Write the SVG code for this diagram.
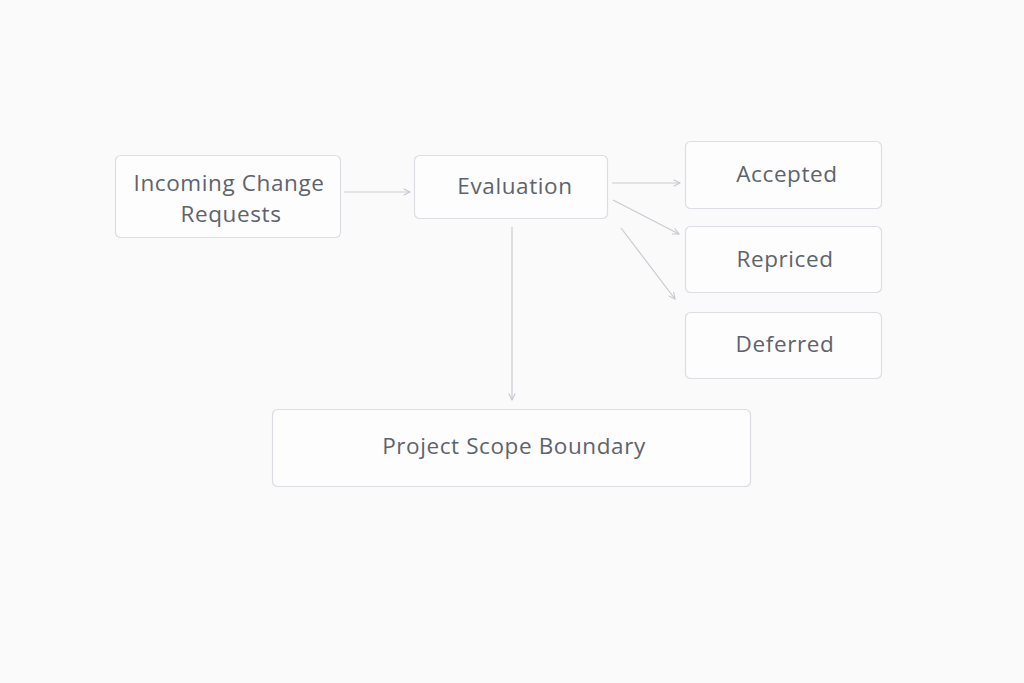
<svg xmlns="http://www.w3.org/2000/svg" width="1024" height="683" viewBox="0 0 1024 683">
<defs>
<marker id="arr" viewBox="0 0 10 10" refX="9" refY="5" markerWidth="8" markerHeight="8" orient="auto" markerUnits="userSpaceOnUse">
<path d="M1,1 L9,5 L1,9" fill="none" stroke="#c3c6ce" stroke-width="1.3"/>
</marker>
<style>
.box{fill:#fdfdfd;stroke:#dcdee3;stroke-width:1.2}
.t{font-family:"Open Sans","Liberation Sans",sans-serif;font-size:22.5px;letter-spacing:0.6px;fill:#5d636c;text-anchor:middle;dominant-baseline:central}
.c{stroke:#c8cbd2;stroke-width:1.2;fill:none;marker-end:url(#arr)}
</style>
</defs>
<rect width="1024" height="683" fill="#fafafa"/>
<g id="connectors">
<line class="c" x1="344" y1="192" x2="410" y2="192"/>
<line class="c" x1="612" y1="183" x2="680" y2="183"/>
<line class="c" x1="613" y1="200" x2="679" y2="234"/>
<line class="c" x1="621" y1="228" x2="675" y2="299"/>
<line class="c" x1="512" y1="227" x2="512" y2="400"/>
</g>
<g id="incoming">
<rect class="box" x="115.5" y="155.5" width="225" height="82" rx="5"/>
<text class="t" x="229" y="182">Incoming Change</text>
<text class="t" x="231" y="213">Requests</text>
</g>
<g id="evaluation">
<rect class="box" x="414.5" y="155.5" width="193" height="63" rx="5"/>
<text class="t" x="515" y="185">Evaluation</text>
</g>
<g id="accepted">
<rect class="box" x="685.5" y="141.5" width="196" height="67" rx="5"/>
<text class="t" x="787" y="173">Accepted</text>
</g>
<g id="repriced">
<rect class="box" x="685.5" y="226.5" width="196" height="66" rx="5"/>
<text class="t" x="785" y="258">Repriced</text>
</g>
<g id="deferred">
<rect class="box" x="685.5" y="312.5" width="196" height="66" rx="5"/>
<text class="t" x="785" y="343">Deferred</text>
</g>
<g id="scope">
<rect class="box" x="272.5" y="409.5" width="478" height="77" rx="5"/>
<text class="t" x="514" y="445">Project Scope Boundary</text>
</g>
</svg>
